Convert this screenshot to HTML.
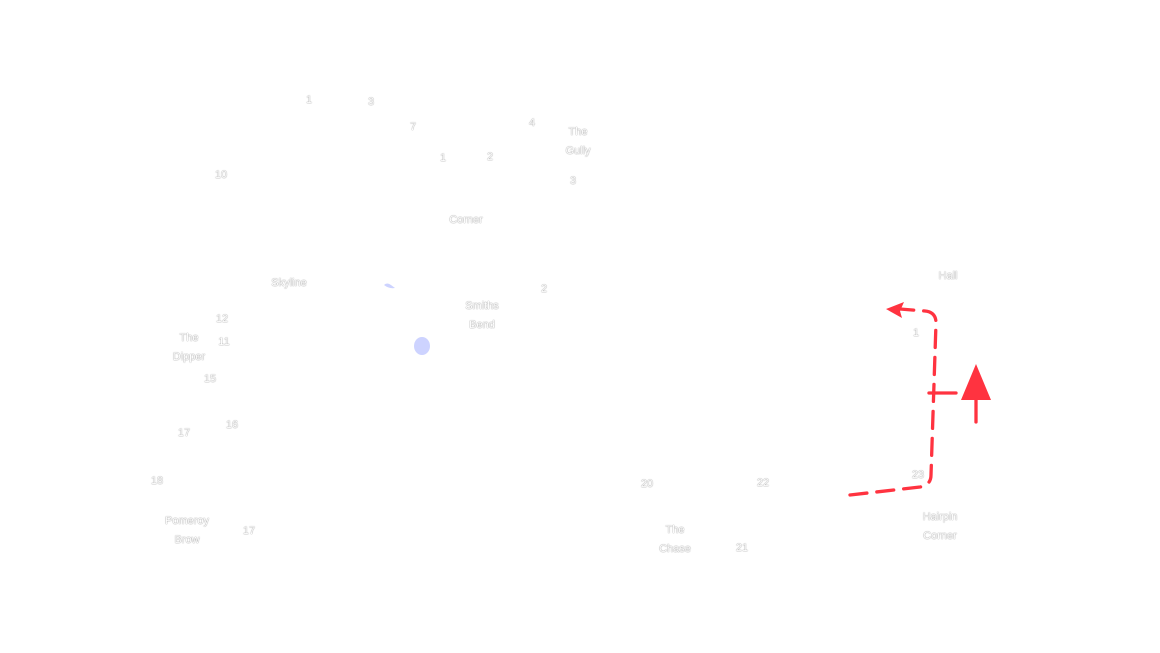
<!DOCTYPE html>
<html><head><meta charset="utf-8"><style>
html,body{margin:0;padding:0;background:#fff;}
#c{position:relative;width:1160px;height:653px;overflow:hidden;background:#fff;font-family:"Liberation Sans",sans-serif;}
.t{position:absolute;font-size:11px;line-height:19px;color:#fff;text-shadow:0 0 1px #555;text-align:center;white-space:nowrap;transform:translateX(-50%);margin-top:2px;}
svg{position:absolute;left:0;top:0;}
</style></head><body><div id="c">
<svg width="1160" height="653">
<path d="M384 285 Q387 282 391 285 L395 288 Q389 289 384 285 Z" fill="#cdd3ff"/>
<ellipse cx="422" cy="346" rx="8" ry="9" fill="#cdd3ff"/>
<g stroke="#ff3340" stroke-width="3.3" fill="none" stroke-linecap="round">
<path d="M850 495 L920 487 Q931 485 931 475 L936 323 Q936 312 925 311 L900 309" stroke-dasharray="17 10"/>
<line x1="929" y1="393" x2="956" y2="393"/>
<line x1="976" y1="422" x2="976" y2="395"/>
</g>
<polygon points="886,309 904,302 900,311 902,318" fill="#ff3340"/>
<polygon points="976,364 961,400 991,400" fill="#ff3340"/>
</svg>
<div class="t" style="left:309px;top:89px">1</div>
<div class="t" style="left:371px;top:91px">3</div>
<div class="t" style="left:413px;top:116px">7</div>
<div class="t" style="left:532px;top:112px">4</div>
<div class="t" style="left:578px;top:121px">The<br>Gully</div>
<div class="t" style="left:443px;top:147px">1</div>
<div class="t" style="left:490px;top:146px">2</div>
<div class="t" style="left:573px;top:170px">3</div>
<div class="t" style="left:221px;top:164px">10</div>
<div class="t" style="left:466px;top:209px">Corner</div>
<div class="t" style="left:289px;top:272px">Skyline</div>
<div class="t" style="left:544px;top:278px">2</div>
<div class="t" style="left:482px;top:295px">Smiths<br>Bend</div>
<div class="t" style="left:222px;top:308px">12</div>
<div class="t" style="left:189px;top:327px">The<br>Dipper</div>
<div class="t" style="left:224px;top:331px">11</div>
<div class="t" style="left:210px;top:368px">15</div>
<div class="t" style="left:232px;top:414px">16</div>
<div class="t" style="left:184px;top:422px">17</div>
<div class="t" style="left:157px;top:470px">18</div>
<div class="t" style="left:187px;top:510px">Pomeroy<br>Brow</div>
<div class="t" style="left:249px;top:520px">17</div>
<div class="t" style="left:647px;top:473px">20</div>
<div class="t" style="left:763px;top:472px">22</div>
<div class="t" style="left:675px;top:519px">The<br>Chase</div>
<div class="t" style="left:742px;top:537px">21</div>
<div class="t" style="left:948px;top:265px">Hall</div>
<div class="t" style="left:916px;top:322px">1</div>
<div class="t" style="left:918px;top:464px">23</div>
<div class="t" style="left:940px;top:506px">Hairpin<br>Corner</div>
</div></body></html>
